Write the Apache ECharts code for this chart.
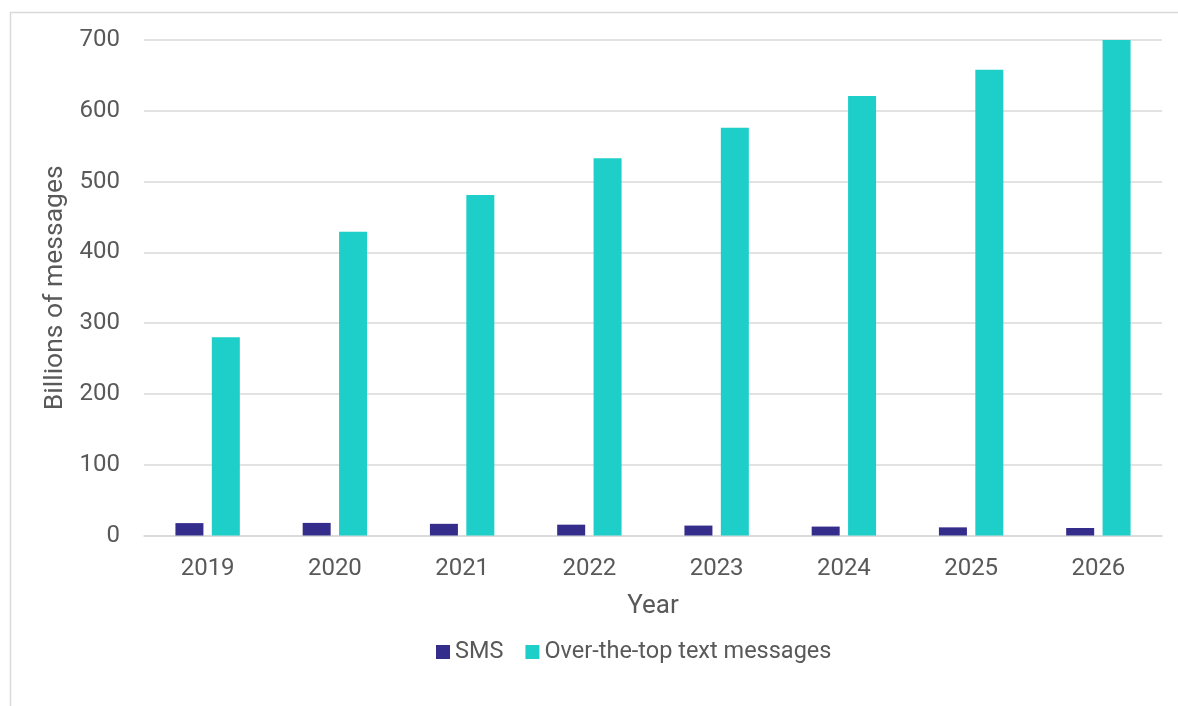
<!DOCTYPE html>
<html>
<head>
<meta charset="utf-8">
<script src="https://cdn.jsdelivr.net/npm/echarts@6/dist/echarts.min.js"></script>
<style>
html,body{margin:0;padding:0;background:#fff;}
#chart{width:1178px;height:706px;}
</style>
</head>
<body>
<div id="chart"></div>
<script>
const years = ['2019','2020','2021','2022','2023','2024','2025','2026'];
const smsValues = [17.5, 17.8, 16.5, 15.3, 14, 12.6, 11.5, 10.6];
const ottValues = [280, 429, 481, 533, 576, 621, 658, 700];
const yTicks = {min: 0, max: 700, interval: 100};

const chart = echarts.init(document.getElementById('chart'));
const font = 'Roboto, "Noto Sans", sans-serif';
chart.setOption({
  animation: false,
  textStyle: {fontFamily: font},
  graphic: [{
    type: 'rect', left: 8, top: 10, silent: true,
    shape: {x: 0, y: 0, width: 1300, height: 800},
    style: {fill: 'none', stroke: '#d9d9d9', lineWidth: 1.5}
  }],
  grid: {left: 144, right: 16, top: 40, bottom: 170.5, containLabel: false},
  legend: {
    bottom: 37, left: 431,
    itemWidth: 14, itemHeight: 14, itemGap: 22,
    icon: 'rect',
    textStyle: {fontSize: 23.5, color: '#595959', fontFamily: font},
    data: ['SMS', 'Over-the-top text messages']
  },
  xAxis: {
    type: 'category', data: years,
    name: 'Year', nameLocation: 'middle', nameGap: 58,
    nameTextStyle: {fontSize: 26, color: '#595959', fontFamily: font},
    axisLine: {lineStyle: {color: '#d9d9d9', width: 1.5}},
    axisTick: {show: false},
    axisLabel: {fontSize: 24, color: '#595959', margin: 21, fontFamily: font}
  },
  yAxis: {
    type: 'value', min: yTicks.min, max: yTicks.max, interval: yTicks.interval,
    name: 'Billions of messages', nameLocation: 'middle', nameGap: 68, nameRotate: 90,
    nameTextStyle: {fontSize: 26.5, color: '#595959', fontFamily: font},
    axisLine: {show: false}, axisTick: {show: false},
    axisLabel: {fontSize: 24, color: '#595959', margin: 24, fontFamily: font},
    splitLine: {lineStyle: {color: '#d9d9d9', width: 1.5}}
  },
  series: [
    {name: 'SMS', type: 'bar', data: smsValues, barWidth: 28, barGap: '30%',
     itemStyle: {color: '#342d8c'}},
    {name: 'Over-the-top text messages', type: 'bar', data: ottValues, barWidth: 28, barGap: '30%',
     itemStyle: {color: '#1ecfc9'}}
  ]
});
</script>
</body>
</html>
